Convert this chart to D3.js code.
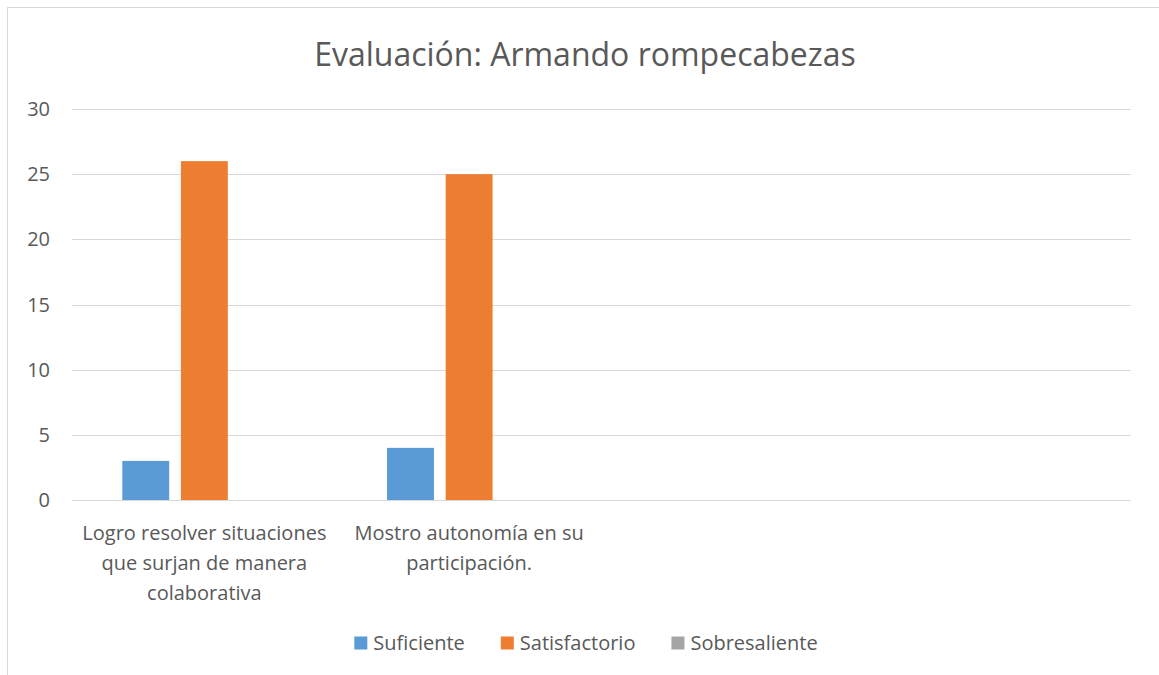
<!DOCTYPE html>
<html>
<head>
<meta charset="utf-8">
<script src="https://cdn.jsdelivr.net/npm/d3@7"></script>
<style>
  body { margin: 0; background: #fff; }
  text { font-family: "Open Sans", Lato, sans-serif; fill: #595959; }
</style>
</head>
<body>
<svg id="chart" width="1159" height="675"></svg>
<script>
// chart data
const title = 'Evaluación: Armando rompecabezas';
const categories = [
  'Logro resolver situaciones\nque surjan de manera\ncolaborativa',
  'Mostro autonomía en su\nparticipación.',
  '',
  ''
];
const seriesNames = ['Suficiente', 'Satisfactorio', 'Sobresaliente'];
const suficiente = [3, 4, null, null];
const satisfactorio = [26, 25, null, null];
const sobresaliente = [0, 0, null, null];
const yTicks = [0, 5, 10, 15, 20, 25, 30];
const colors = ['#5b9bd5', '#ed7d31', '#a5a5a5'];

const values = [suficiente, satisfactorio, sobresaliente];

const svg = d3.select('#chart');
const width = 1159, height = 675;
const margin = { top: 109, right: 28, bottom: 175, left: 72 };
const plotW = width - margin.left - margin.right;
const plotH = height - margin.top - margin.bottom;

// outer frame
svg.append('rect')
  .attr('x', 7.5).attr('y', 7.5)
  .attr('width', width + 10).attr('height', height + 10)
  .attr('fill', 'none')
  .attr('stroke', '#d9d9d9');

// title
svg.append('text')
  .attr('x', 585)
  .attr('y', 66)
  .attr('text-anchor', 'middle')
  .attr('font-size', '32px')
  .text(title);

const g = svg.append('g')
  .attr('transform', `translate(${margin.left},${margin.top})`);

const x0 = d3.scaleBand()
  .domain(d3.range(categories.length))
  .range([0, plotW]);

const x1 = d3.scaleBand()
  .domain(d3.range(seriesNames.length))
  .range([x0.bandwidth() * 0.19, x0.bandwidth() * 0.81])
  .paddingInner(0.2);

const y = d3.scaleLinear()
  .domain([0, 30])
  .range([plotH, 0]);

// gridlines
g.selectAll('.grid')
  .data(yTicks)
  .enter()
  .append('line')
  .attr('class', 'grid')
  .attr('x1', 0)
  .attr('x2', plotW)
  .attr('y1', d => Math.round(y(d)) + 0.5)
  .attr('y2', d => Math.round(y(d)) + 0.5)
  .attr('stroke', '#d9d9d9')
  .attr('stroke-width', 1);

// y axis labels
g.selectAll('.ylabel')
  .data(yTicks)
  .enter()
  .append('text')
  .attr('class', 'ylabel')
  .attr('x', -22)
  .attr('y', d => y(d))
  .attr('dy', '0.35em')
  .attr('text-anchor', 'end')
  .attr('font-size', '20px')
  .text(d => d);

// bars
const catGroups = g.selectAll('.cat')
  .data(categories)
  .enter()
  .append('g')
  .attr('class', 'cat')
  .attr('transform', (d, i) => `translate(${x0(i)},0)`);

catGroups.each(function (d, ci) {
  const cg = d3.select(this);
  values.forEach((series, si) => {
    const v = series[ci];
    if (v == null || v === 0) return;
    cg.append('rect')
      .attr('x', x1(si))
      .attr('y', y(v))
      .attr('width', x1.bandwidth())
      .attr('height', y(0) - y(v))
      .attr('fill', colors[si]);
  });

  // category label, one tspan per line
  const lines = d.split('\n').filter(s => s.length);
  const t = cg.append('text')
    .attr('text-anchor', 'middle')
    .attr('font-size', '20px');
  lines.forEach((line, li) => {
    t.append('tspan')
      .attr('x', x0.bandwidth() / 2)
      .attr('y', plotH + 40 + li * 30)
      .text(line);
  });
});

// legend, centered under the chart
const swatch = 13, textGap = 6, itemGap = 36;
const legend = svg.append('g').attr('class', 'legend');
const items = seriesNames.map((name, i) => {
  const item = legend.append('g');
  item.append('rect')
    .attr('x', 0)
    .attr('y', -swatch / 2)
    .attr('width', swatch)
    .attr('height', swatch)
    .attr('fill', colors[i]);
  const label = item.append('text')
    .attr('x', swatch + textGap)
    .attr('y', 0)
    .attr('dy', '0.35em')
    .attr('font-size', '20px')
    .text(name);
  return { item, w: swatch + textGap + label.node().getComputedTextLength() };
});
const totalW = d3.sum(items, d => d.w) + itemGap * (items.length - 1);
let lx = 586 - totalW / 2;
items.forEach(d => {
  d.item.attr('transform', `translate(${lx},643)`);
  lx += d.w + itemGap;
});
</script>
</body>
</html>
